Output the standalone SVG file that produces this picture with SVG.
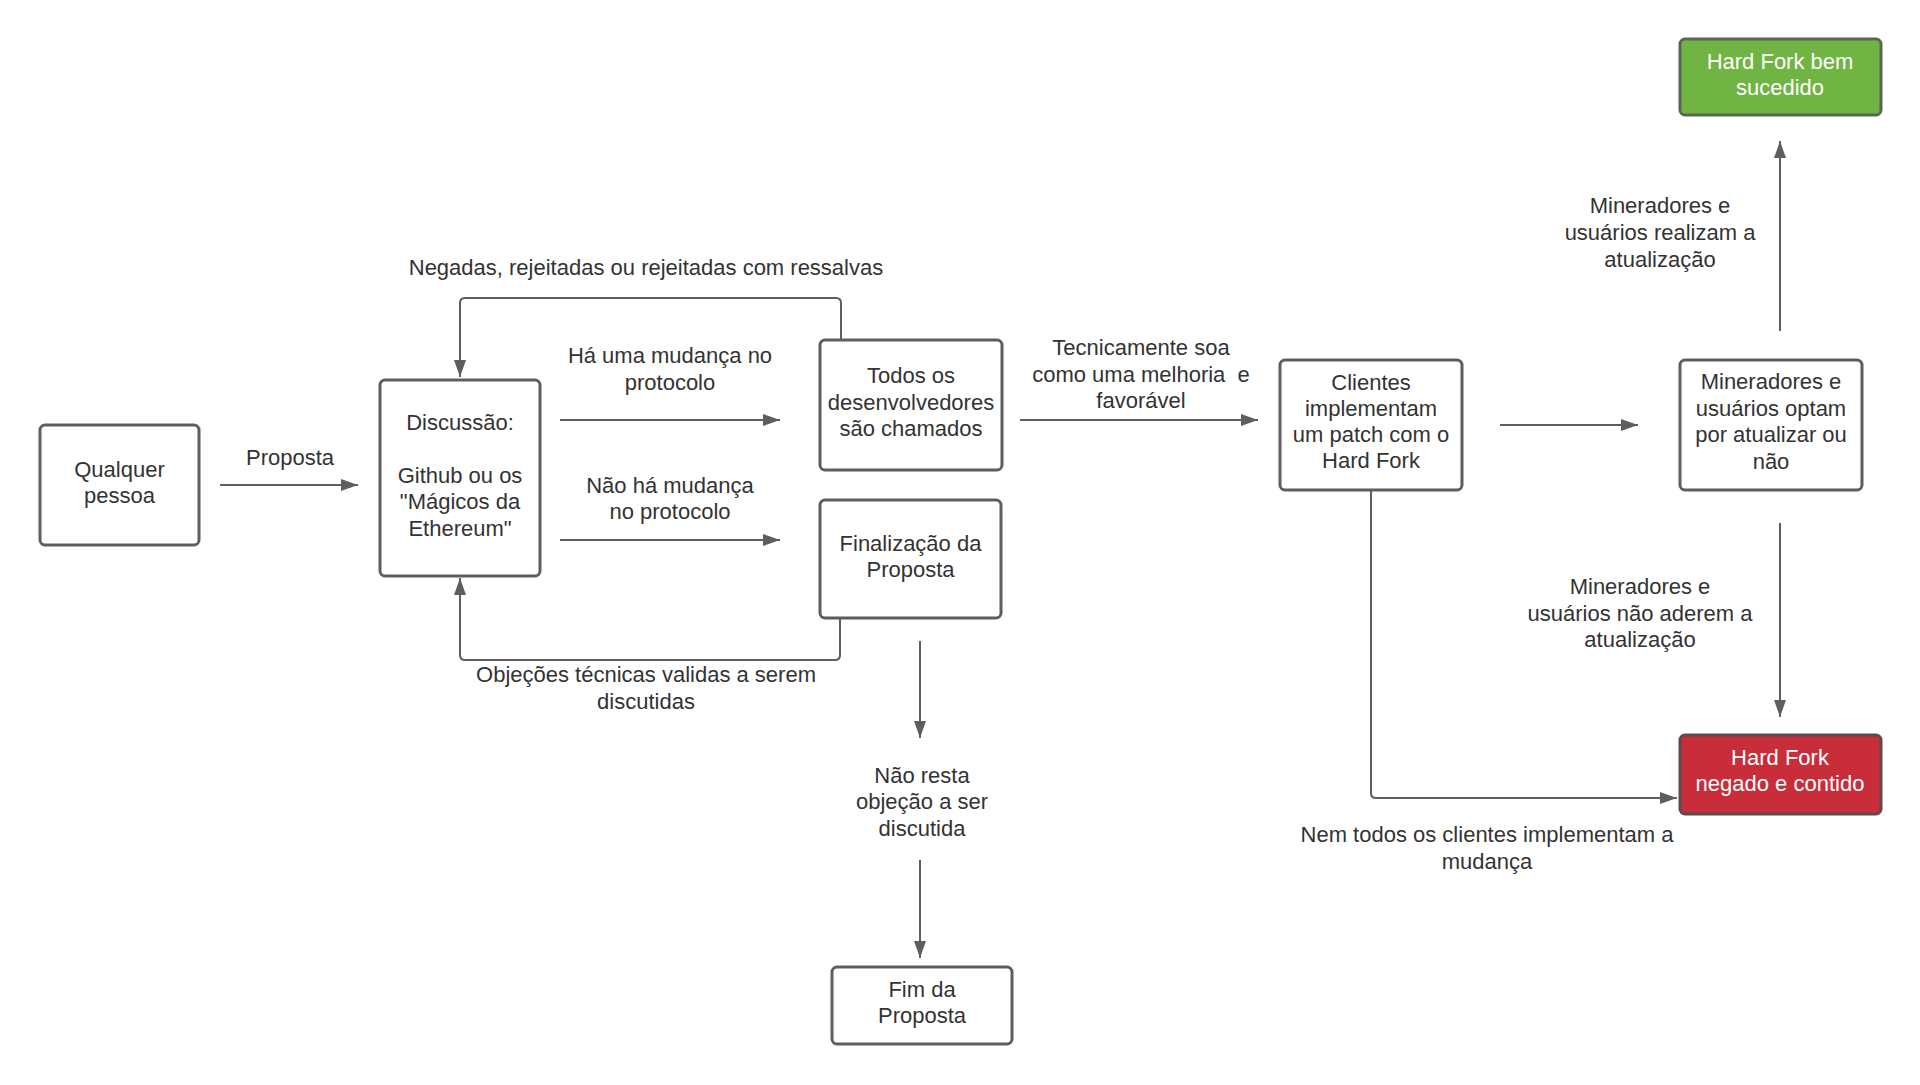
<svg xmlns="http://www.w3.org/2000/svg" width="1920" height="1085" viewBox="0 0 1920 1085">
<style>
.box{fill:#ffffff;stroke:#5e5e5e;stroke-width:3}
.t{font-family:"Liberation Sans",Arial,sans-serif;font-size:22px;fill:#333333;text-anchor:middle}
.w{fill:#ffffff}
.c{fill:none;stroke:#5e5e5e;stroke-width:2;stroke-linejoin:round}
</style>
<defs>
<marker id="ah" viewBox="0 0 17 12" refX="17" refY="6" markerWidth="17" markerHeight="12" markerUnits="userSpaceOnUse" orient="auto">
<path d="M0,0 L17,6 L0,12 z" fill="#5e5e5e"/>
</marker>
</defs>
<rect width="1920" height="1085" fill="#ffffff"/>
<g id="connectors">
<path class="c" marker-end="url(#ah)" d="M220,485 H358"/>
<path class="c" marker-end="url(#ah)" d="M560,420 H780"/>
<path class="c" marker-end="url(#ah)" d="M560,540 H780"/>
<path class="c" marker-end="url(#ah)" d="M841,340 V303 Q841,298 836,298 H465 Q460,298 460,303 V377"/>
<path class="c" marker-end="url(#ah)" d="M840,618 V655 Q840,660 835,660 H465 Q460,660 460,655 V578"/>
<path class="c" marker-end="url(#ah)" d="M920,641 V738"/>
<path class="c" marker-end="url(#ah)" d="M920,860 V958"/>
<path class="c" marker-end="url(#ah)" d="M1020,420 H1258"/>
<path class="c" marker-end="url(#ah)" d="M1500,425 H1638"/>
<path class="c" marker-end="url(#ah)" d="M1780,331 V141"/>
<path class="c" marker-end="url(#ah)" d="M1780,523 V717"/>
<path class="c" marker-end="url(#ah)" d="M1371,490 V793 Q1371,798 1376,798 H1677"/>
<text class="t" x="290" y="465">Proposta</text>
<text class="t" x="646" y="275">Negadas, rejeitadas ou rejeitadas com ressalvas</text>
<text class="t" x="670" y="363">Há uma mudança no</text>
<text class="t" x="670" y="390">protocolo</text>
<text class="t" x="670" y="493">Não há mudança</text>
<text class="t" x="670" y="519">no protocolo</text>
<text class="t" x="646" y="682">Objeções técnicas validas a serem</text>
<text class="t" x="646" y="709">discutidas</text>
<text class="t" x="922" y="783">Não resta</text>
<text class="t" x="922" y="809">objeção a ser</text>
<text class="t" x="922" y="836">discutida</text>
<text class="t" x="1141" y="355">Tecnicamente soa</text>
<text class="t" x="1141" y="382" xml:space="preserve">como uma melhoria  e</text>
<text class="t" x="1141" y="408">favorável</text>
<text class="t" x="1660" y="213">Mineradores e</text>
<text class="t" x="1660" y="240">usuários realizam a</text>
<text class="t" x="1660" y="267">atualização</text>
<text class="t" x="1640" y="594">Mineradores e</text>
<text class="t" x="1640" y="621">usuários não aderem a</text>
<text class="t" x="1640" y="647">atualização</text>
<text class="t" x="1487" y="842">Nem todos os clientes implementam a</text>
<text class="t" x="1487" y="869">mudança</text>
</g>
<g id="n1">
<rect class="box" x="40" y="425" width="159" height="120" rx="5"/>
<text class="t" x="119.5" y="477">Qualquer</text>
<text class="t" x="119.5" y="503">pessoa</text>
</g>
<g id="n2">
<rect class="box" x="380" y="380" width="160" height="196" rx="5"/>
<text class="t" x="460" y="430">Discussão:</text>
<text class="t" x="460" y="483">Github ou os</text>
<text class="t" x="460" y="509">"Mágicos da</text>
<text class="t" x="460" y="536">Ethereum"</text>
</g>
<g id="n3">
<rect class="box" x="820" y="340" width="182" height="130" rx="5"/>
<text class="t" x="911" y="383">Todos os</text>
<text class="t" x="911" y="410">desenvolvedores</text>
<text class="t" x="911" y="436">são chamados</text>
</g>
<g id="n4">
<rect class="box" x="820" y="500" width="181" height="118" rx="5"/>
<text class="t" x="910.5" y="551">Finalização da</text>
<text class="t" x="910.5" y="577">Proposta</text>
</g>
<g id="n5">
<rect class="box" x="832" y="967" width="180" height="77" rx="5"/>
<text class="t" x="922" y="997">Fim da</text>
<text class="t" x="922" y="1023">Proposta</text>
</g>
<g id="n6">
<rect class="box" x="1280" y="360" width="182" height="130" rx="5"/>
<text class="t" x="1371" y="390">Clientes</text>
<text class="t" x="1371" y="416">implementam</text>
<text class="t" x="1371" y="442">um patch com o</text>
<text class="t" x="1371" y="468">Hard Fork</text>
</g>
<g id="n7">
<rect class="box" x="1680" y="360" width="182" height="130" rx="5"/>
<text class="t" x="1771" y="389">Mineradores e</text>
<text class="t" x="1771" y="416">usuários optam</text>
<text class="t" x="1771" y="442">por atualizar ou</text>
<text class="t" x="1771" y="469">não</text>
</g>
<g id="n8">
<rect class="box" x="1680" y="39" width="201" height="76" rx="5" style="fill:#70b443;stroke:#5a6650"/>
<text class="t w" x="1780" y="69">Hard Fork bem</text>
<text class="t w" x="1780" y="95">sucedido</text>
</g>
<g id="n9">
<rect class="box" x="1680" y="735" width="201" height="79" rx="5" style="fill:#c92d39;stroke:#5e4a4c"/>
<text class="t w" x="1780" y="765">Hard Fork</text>
<text class="t w" x="1780" y="791">negado e contido</text>
</g>
</svg>
